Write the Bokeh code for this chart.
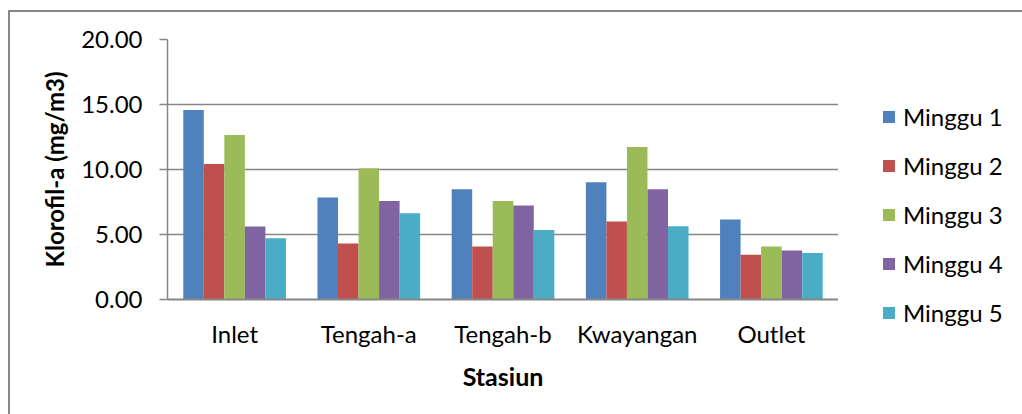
from bokeh.plotting import figure
from bokeh.layouts import row, column
from bokeh.models import (ColumnDataSource, FactorRange, Range1d, Legend, LegendItem,
                          NumeralTickFormatter, FixedTicker)
from bokeh.transform import dodge
from bokeh.embed import file_html
from bokeh.resources import INLINE

stations = ["Inlet", "Tengah-a", "Tengah-b", "Kwayangan", "Outlet"]
minggu_1 = [14.57, 7.85, 8.49, 9.01, 6.15]
minggu_2 = [10.42, 4.30, 4.07, 6.00, 3.45]
minggu_3 = [12.66, 10.09, 7.57, 11.74, 4.07]
minggu_4 = [5.61, 7.57, 7.23, 8.49, 3.76]
minggu_5 = [4.71, 6.64, 5.35, 5.64, 3.58]
series_names = ["Minggu 1", "Minggu 2", "Minggu 3", "Minggu 4", "Minggu 5"]
colors = ["#4F81BD", "#C0504D", "#9BBB59", "#8064A2", "#4BACC6"]
y_ticks = [0, 5, 10, 15, 20]

src = ColumnDataSource(dict(x=stations, m1=minggu_1, m2=minggu_2, m3=minggu_3,
                            m4=minggu_4, m5=minggu_5))
cols = ["m1", "m2", "m3", "m4", "m5"]

FONT = "Lato"
GRAY = "#868686"

p = figure(width=828, height=402, x_range=FactorRange(*stations, range_padding=0),
           y_range=Range1d(0, 20), output_backend="svg", toolbar_location=None,
           min_border_left=157, min_border_right=0, min_border_top=27,
           min_border_bottom=115)
p.outline_line_color = None
p.background_fill_color = "white"
p.border_fill_color = "white"

bw = 0.153
for j, (col, c) in enumerate(zip(cols, colors)):
    p.vbar(x=dodge("x", (j - 2) * bw, range=p.x_range), top=col, width=bw,
           source=src, fill_color=c, line_color=None)

# axes
p.yaxis.ticker = FixedTicker(ticks=y_ticks)
p.yaxis.formatter = NumeralTickFormatter(format="0.00")
p.yaxis.axis_line_color = GRAY
p.yaxis.axis_line_width = 1.5
p.yaxis.major_tick_line_color = GRAY
p.yaxis.major_tick_line_width = 1.5
p.yaxis.major_tick_out = 8
p.yaxis.major_tick_in = 0
p.yaxis.minor_tick_line_color = None
p.yaxis.major_label_text_font = FONT
p.yaxis.major_label_text_font_size = "24px"
p.yaxis.major_label_text_color = "black"
p.yaxis.major_label_standoff = 17
p.yaxis.axis_label = "Klorofil-a (mg/m3)"
p.yaxis.axis_label_text_font = FONT
p.yaxis.axis_label_text_font_style = "bold"
p.yaxis.axis_label_text_font_size = "24px"
p.yaxis.axis_label_text_color = "black"
p.yaxis.axis_label_standoff = 9

p.xaxis.axis_line_color = GRAY
p.xaxis.axis_line_width = 2
p.xaxis.major_tick_line_color = None
p.xaxis.minor_tick_line_color = None
p.xaxis.major_label_text_font = FONT
p.xaxis.major_label_text_font_size = "24px"
p.xaxis.major_label_text_color = "black"
p.xaxis.major_label_standoff = 13
p.xaxis.axis_label = "Stasiun"
p.xaxis.axis_label_text_font = FONT
p.xaxis.axis_label_text_font_style = "bold"
p.xaxis.axis_label_text_font_size = "25px"
p.xaxis.axis_label_text_color = "black"
p.xaxis.axis_label_standoff = 10

p.xgrid.grid_line_color = None
p.ygrid.ticker = FixedTicker(ticks=y_ticks)
p.ygrid.grid_line_color = GRAY
p.ygrid.grid_line_width = 1.5

# legend panel (separate figure to the right; its renderers are hidden)
pl = figure(width=184, height=402, x_range=FactorRange(*stations),
            y_range=Range1d(0, 20), x_axis_type=None, y_axis_type=None,
            output_backend="svg", toolbar_location=None,
            min_border=0)
pl.outline_line_color = None
pl.background_fill_color = "white"
pl.border_fill_color = "white"
leg_items = []
for col, name, c in zip(cols, series_names, colors):
    r = pl.vbar(x="x", top=col, width=0.5, source=src,
                fill_color=c, line_color=None, visible=False)
    leg_items.append(LegendItem(label=name, renderers=[r]))

legend = Legend(items=leg_items, location=(43, 87), orientation="vertical",
                label_text_font=FONT, label_text_font_size="24px",
                label_text_color="black", glyph_width=15, glyph_height=15,
                label_height=24, spacing=20, label_standoff=7, padding=0, margin=0,
                border_line_color=None, background_fill_alpha=0,
                click_policy="none", inactive_fill_alpha=0)
pl.add_layout(legend, "center")

layout = row(p, column(pl), spacing=0)
layout.margin = (10, 0, 0, 8)
layout.styles = {"border-left": "2px solid #868686", "border-top": "2px solid #868686"}

open("out.html", "w").write(file_html(layout, INLINE))
